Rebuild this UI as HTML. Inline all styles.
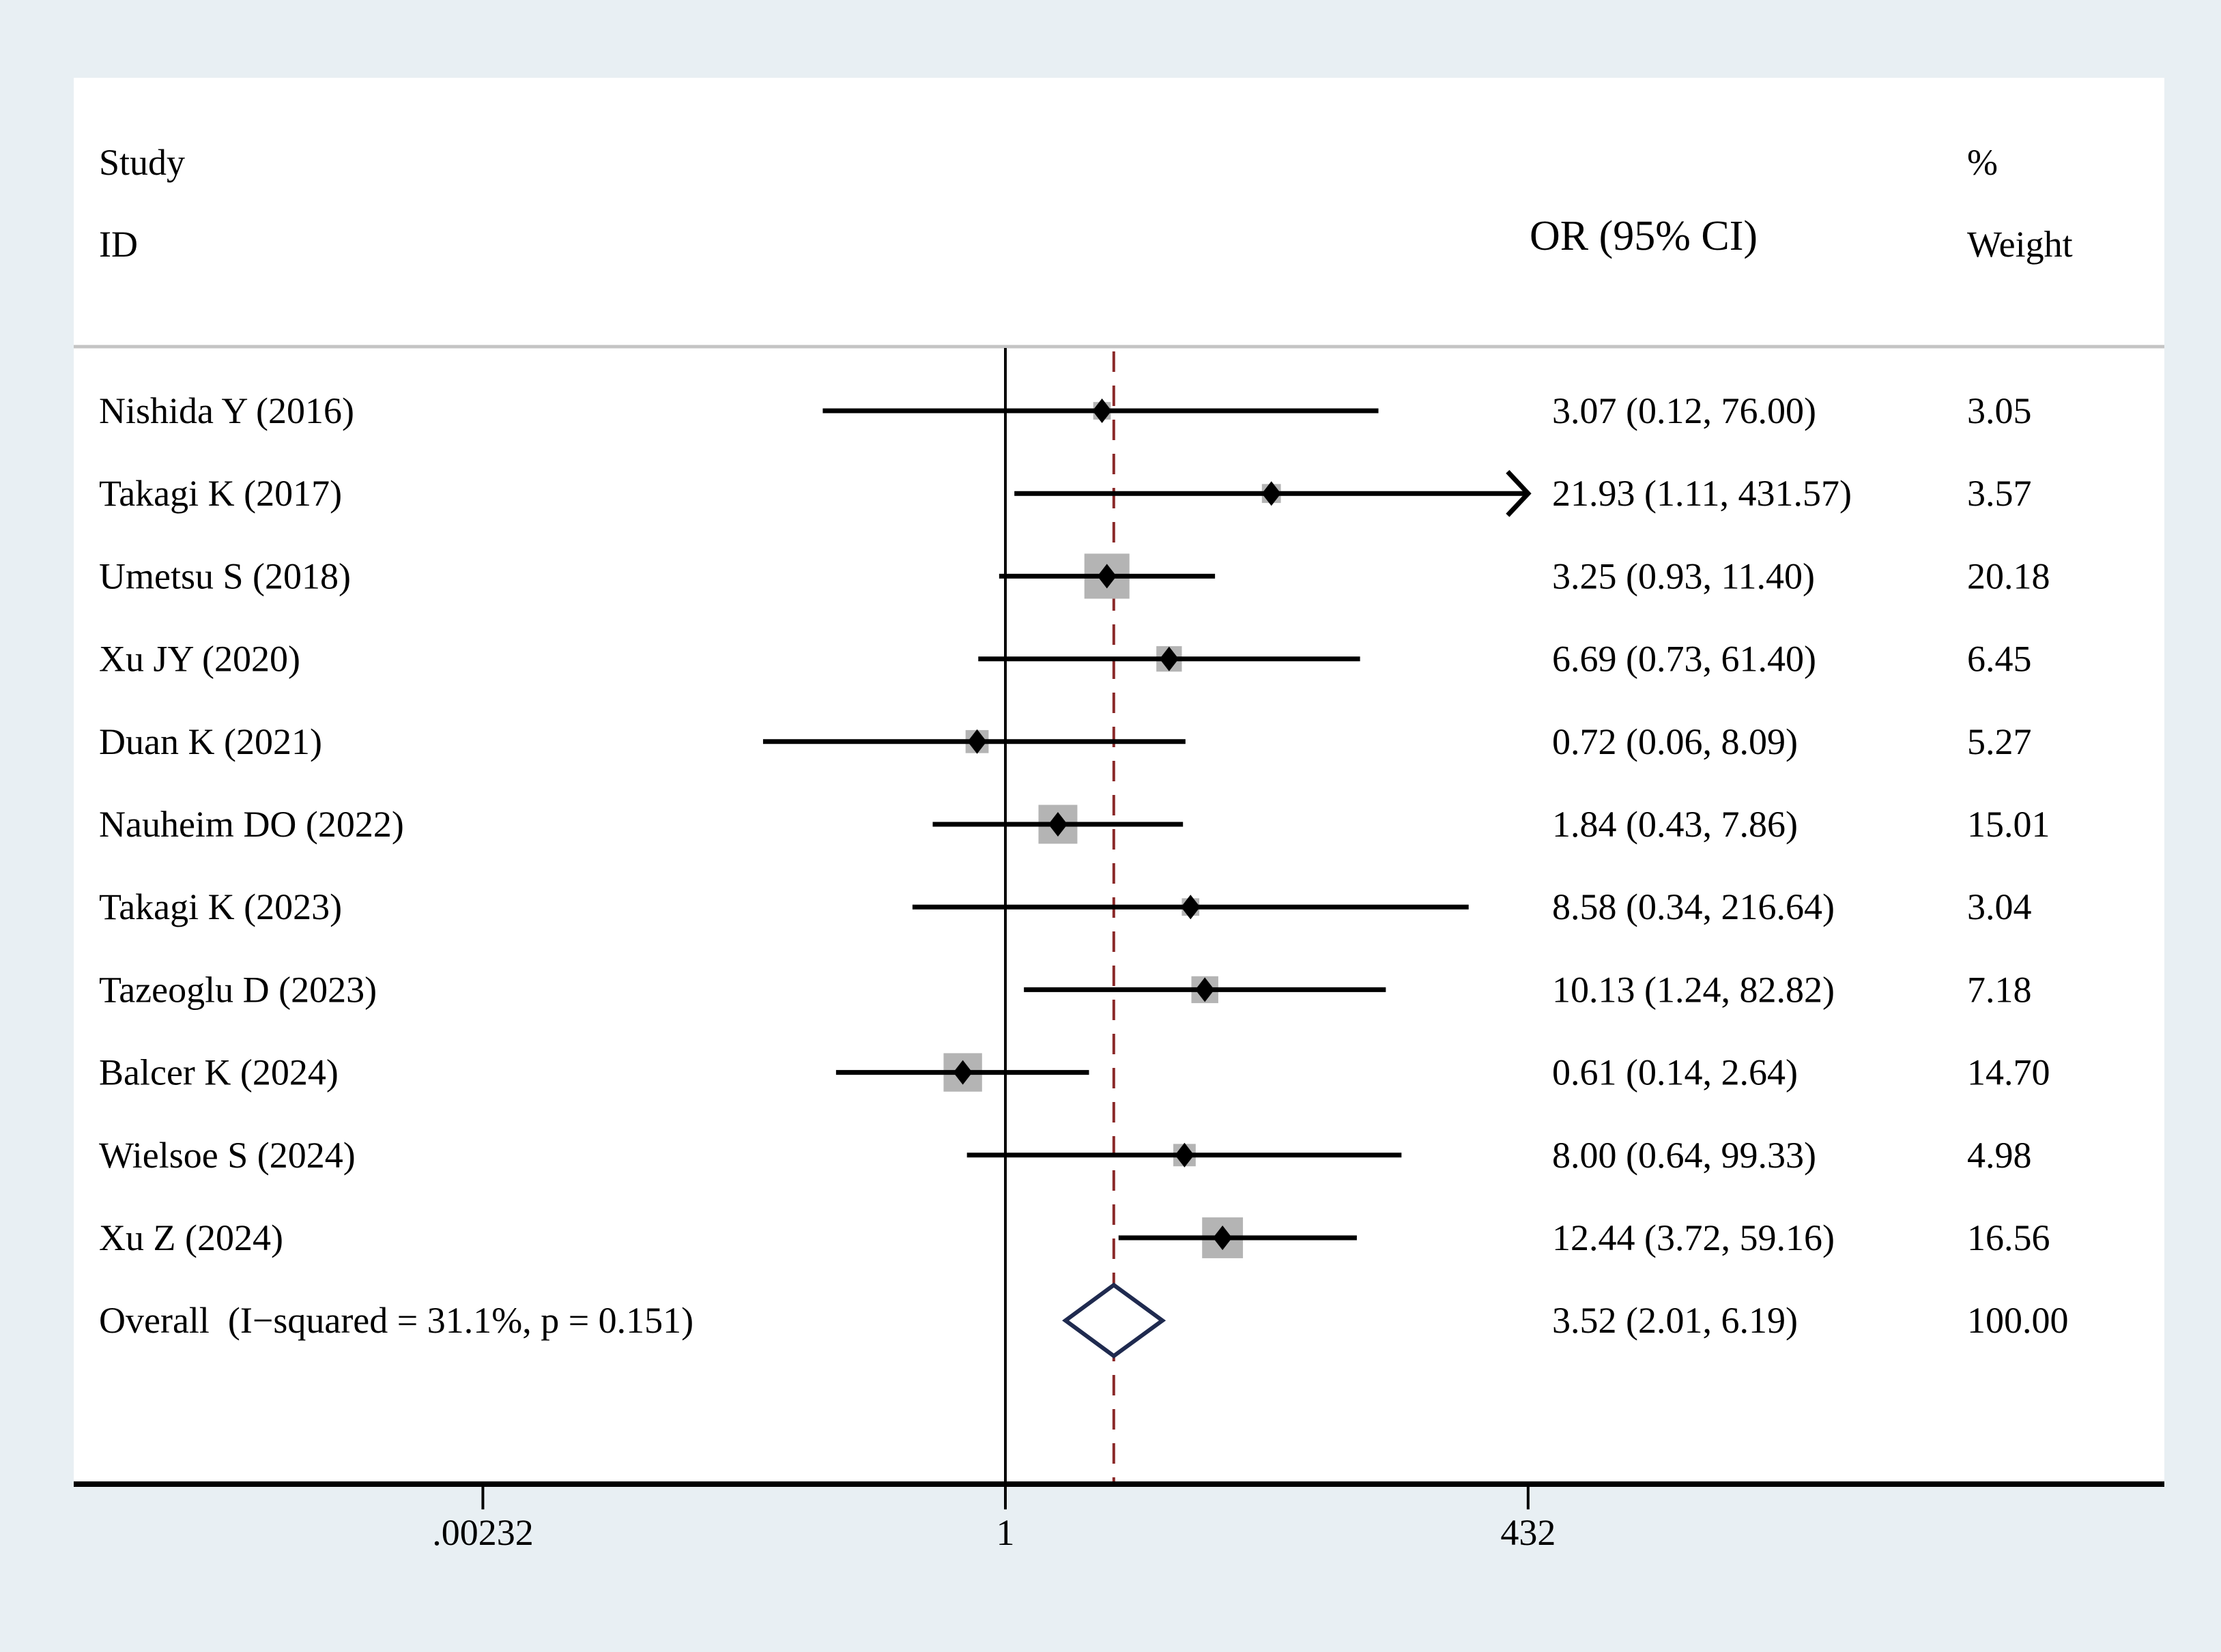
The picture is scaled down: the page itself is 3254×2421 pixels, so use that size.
<!DOCTYPE html>
<html><head><meta charset="utf-8"><style>
html,body{margin:0;padding:0;background:#e8eff3;}
svg{display:block;font-family:"Liberation Serif",serif;}
</style></head><body>
<svg id="chart" width="3254" height="2421" viewBox="0 0 3254 2421" xmlns="http://www.w3.org/2000/svg">
<rect x="0" y="0" width="3254" height="2421" fill="#e8eff3"/>
<rect x="108" y="114" width="3063" height="2061" fill="#ffffff"/>
<g font-size="54" fill="#000">
<text x="145" y="256">Study</text>
<text x="145" y="376">ID</text>
<text x="2241" y="366" font-size="62">OR (95% CI)</text>
<text x="2882" y="256">%</text>
<text x="2882" y="376">Weight</text>
</g>
<line x1="108" y1="508" x2="3171" y2="508" stroke="#c4c4c4" stroke-width="5"/>
<g id="marks"></g>
</svg>
<script>
const studies = ["Nishida Y (2016)","Takagi K (2017)","Umetsu S (2018)","Xu JY (2020)","Duan K (2021)","Nauheim DO (2022)","Takagi K (2023)","Tazeoglu D (2023)","Balcer K (2024)","Wielsoe S (2024)","Xu Z (2024)"];
const orValues = [3.07,21.93,3.25,6.69,0.72,1.84,8.58,10.13,0.61,8.00,12.44];
const lowerCI = [0.12,1.11,0.93,0.73,0.06,0.43,0.34,1.24,0.14,0.64,3.72];
const upperCI = [76.00,431.57,11.40,61.40,8.09,7.86,216.64,82.82,2.64,99.33,59.16];
const weights = [3.05,3.57,20.18,6.45,5.27,15.01,3.04,7.18,14.70,4.98,16.56];
const overall = [3.52,2.01,6.19];
const overallLabel = "Overall\u00a0\u00a0(I\u2212squared = 31.1%, p = 0.151)";
const tickValues = [0.00232,1,432];
const tickLabels = [".00232","1","432"];

const NS="http://www.w3.org/2000/svg";
const g=document.getElementById('marks');
const X0=1473, K=126.2, Y0=602, DY=121.2, AXIS_Y=2175;
const XMAXV=tickValues[tickValues.length-1];
const xs=v=>X0+K*Math.log(v);
const ys=i=>Y0+DY*i;
function mk(tag,attrs,parent){const e=document.createElementNS(NS,tag);for(const k in attrs)e.setAttribute(k,attrs[k]);(parent||g).appendChild(e);return e;}
const fmt=v=>v.toFixed(2);

const nl=mk('line',{x1:X0,y1:510,x2:X0,y2:AXIS_Y,stroke:'#000','stroke-width':4});


const ol=mk('line',{x1:xs(overall[0]),y1:515,x2:xs(overall[0]),y2:AXIS_Y,stroke:'#8b2a2a','stroke-width':4,'stroke-dasharray':'30 20'});



studies.forEach((s,i)=>{
  const y=ys(i);
  const grp=mk('g',{});
  
  
  const side=14.7*Math.sqrt(weights[i]);
  const sq=mk('rect',{x:xs(orValues[i])-side/2,y:y-side/2,width:side,height:side,fill:'#b4b4b4'},grp);
  
  
  const clipped=upperCI[i]>=XMAXV*0.98;
  const hi=Math.min(upperCI[i],XMAXV);
  const ci=mk('line',{x1:xs(lowerCI[i]),y1:y,x2:xs(hi),y2:y,stroke:'#000','stroke-width':7},grp);
  
  
  if(clipped){
    const ax=xs(XMAXV);
    const ar=mk('polyline',{points:`${ax-30},${y-32} ${ax},${y} ${ax-30},${y+32}`,fill:'none',stroke:'#000','stroke-width':7},grp);
    
    
  }
  const cx=xs(orValues[i]);
  const dm=mk('polygon',{points:`${cx-14},${y} ${cx},${y-18} ${cx+14},${y} ${cx},${y+18}`,fill:'#000'},grp);
  
  
  const t1=mk('text',{x:145,y:y+18,'font-size':54},grp);t1.textContent=s;
  
  
  const t2=mk('text',{x:2274,y:y+18,'font-size':54},grp);
  t2.textContent=`${fmt(orValues[i])} (${fmt(lowerCI[i])}, ${fmt(upperCI[i])})`;
  
  
  const t3=mk('text',{x:2882,y:y+18,'font-size':54},grp);t3.textContent=fmt(weights[i]);
  
  
});

const oy=ys(studies.length);
const od=mk('polygon',{points:`${xs(overall[1])},${oy} ${xs(overall[0])},${oy-52} ${xs(overall[2])},${oy} ${xs(overall[0])},${oy+52}`,fill:'#fff',stroke:'#1f2a4f','stroke-width':6});


const o1=mk('text',{x:145,y:oy+18,'font-size':54});o1.textContent=overallLabel;


const o2=mk('text',{x:2274,y:oy+18,'font-size':54});o2.textContent=`${fmt(overall[0])} (${fmt(overall[1])}, ${fmt(overall[2])})`;


const o3=mk('text',{x:2882,y:oy+18,'font-size':54});o3.textContent="100.00";



const axl=mk('line',{x1:108,y1:AXIS_Y,x2:3171,y2:AXIS_Y,stroke:'#000','stroke-width':8});


tickValues.forEach((v,i)=>{
  const tk=mk('line',{x1:xs(v),y1:AXIS_Y,x2:xs(v),y2:2212,stroke:'#000','stroke-width':4});
  
  
  const tl=mk('text',{x:xs(v),y:2264,'font-size':54,'text-anchor':'middle'});tl.textContent=tickLabels[i];
  
  
});
</script>
</body></html>
